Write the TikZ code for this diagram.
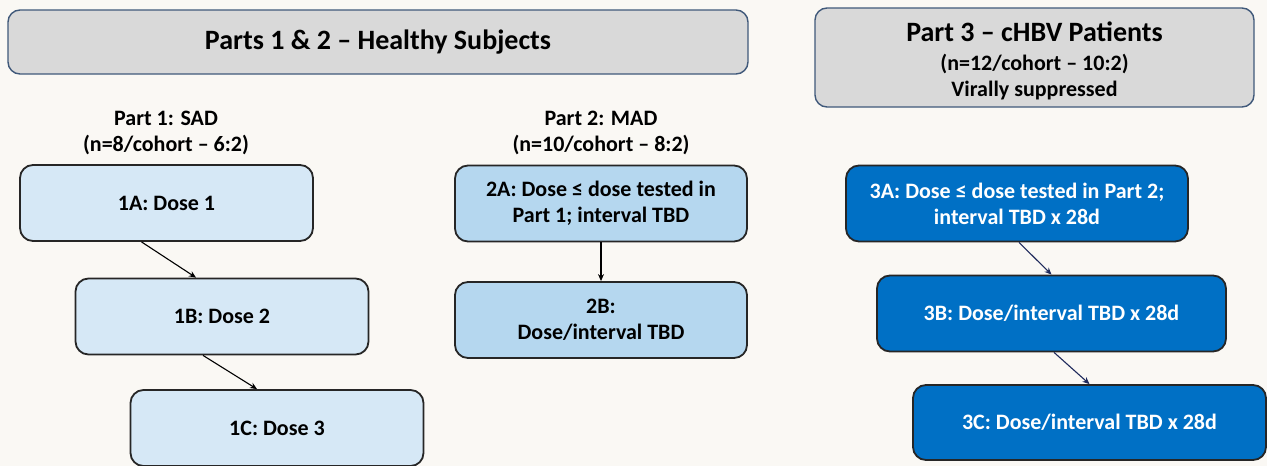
\documentclass[tikz,border=0pt]{standalone}
\usepackage{fontspec}
\setmainfont{Carlito}
\usetikzlibrary{arrows.meta}

\definecolor{pagebg}{HTML}{FAF8F4}
\definecolor{headfill}{HTML}{D9D9D9}
\definecolor{headline}{HTML}{40597A}
\definecolor{sadfill}{HTML}{D6E8F6}
\definecolor{madfill}{HTML}{B5D7EF}
\definecolor{hbvfill}{HTML}{0070C5}
\definecolor{navyarrow}{HTML}{1F2A5C}

\tikzset{
  header/.style={draw=headline, line width=1.4pt, fill=headfill, rounded corners=12pt,
    align=center, inner sep=0pt},
  cohort/.style={draw=black!85, line width=1.8pt, rounded corners=13pt, align=center,
    font=\fontsize{22}{26}\selectfont\bfseries, inner sep=0pt,
    minimum height=76pt},
  sadbox/.style={cohort, fill=sadfill, minimum width=293pt},
  madbox/.style={cohort, fill=madfill, minimum width=292pt},
  hbvbox/.style={cohort, fill=hbvfill, text=white},
  partlabel/.style={align=center, font=\fontsize{22}{26}\selectfont\bfseries},
  doselink/.style={-{Stealth[length=7pt,width=6pt]}, line width=1.1pt, black},
  hbvlink/.style={doselink, navyarrow}
}

\begin{document}
\begin{tikzpicture}[x=1pt, y=-1pt]
  \fill[pagebg] (0,0) rectangle (1267,466);
  \useasboundingbox (0,0) rectangle (1267,466);

  % headers
  \node[header, minimum width=740pt, minimum height=64pt,
    font=\fontsize{28}{32}\selectfont\bfseries] (h12) at (378,42) {Parts 1 \& 2 -- Healthy Subjects};
  \node[header, minimum width=439pt, minimum height=99pt,
    font=\fontsize{22}{26}\selectfont\bfseries] (h3) at (1034.5,57.5)
    {\rule{0pt}{27pt}{\fontsize{28}{28}\selectfont Part 3 -- cHBV Patients}\\[3pt]
     (n=12/cohort -- 10:2)\\
     Virally suppressed};

  % part 1
  \node[partlabel] (sadlabel) at (166,133) {Part 1: SAD\\(n=8/cohort -- 6:2)};
  \node[sadbox] (s1a) at (166.5,203) {1A: Dose 1};
  \node[sadbox] (s1b) at (222,316.5) {1B: Dose 2};
  \node[sadbox] (s1c) at (277,428) {1C: Dose 3};

  % part 2
  \node[partlabel] (madlabel) at (601,133) {Part 2: MAD\\(n=10/cohort -- 8:2)};
  \node[madbox] (m2a) at (601,203.5) {2A: Dose ≤ dose tested in\\Part 1; interval TBD};
  \node[madbox] (m2b) at (601,320) {2B:\\Dose/interval TBD};

  % part 3
  \node[hbvbox, minimum width=342pt] (p3a) at (1017,203.5) {3A: Dose ≤ dose tested in Part 2;\\interval TBD x 28d};
  \node[hbvbox, minimum width=349pt] (p3b) at (1051.5,313.5) {3B: Dose/interval TBD x 28d};
  \node[hbvbox, minimum width=353pt, minimum height=75pt] (p3c) at (1089.5,422.5) {3C: Dose/interval TBD x 28d};

  % links
  \draw[doselink] ([xshift=-25pt]s1a.south) -- ([xshift=-26pt]s1b.north);
  \draw[doselink] ([xshift=-19pt]s1b.south) -- ([xshift=-20pt]s1c.north);
  \draw[doselink] (m2a.south) -- (m2b.north);
  \draw[hbvlink] ([xshift=2pt]p3a.south) -- (p3b.north);
  \draw[hbvlink] ([xshift=2.5pt]p3b.south) -- (p3c.north);
\end{tikzpicture}
\end{document}
